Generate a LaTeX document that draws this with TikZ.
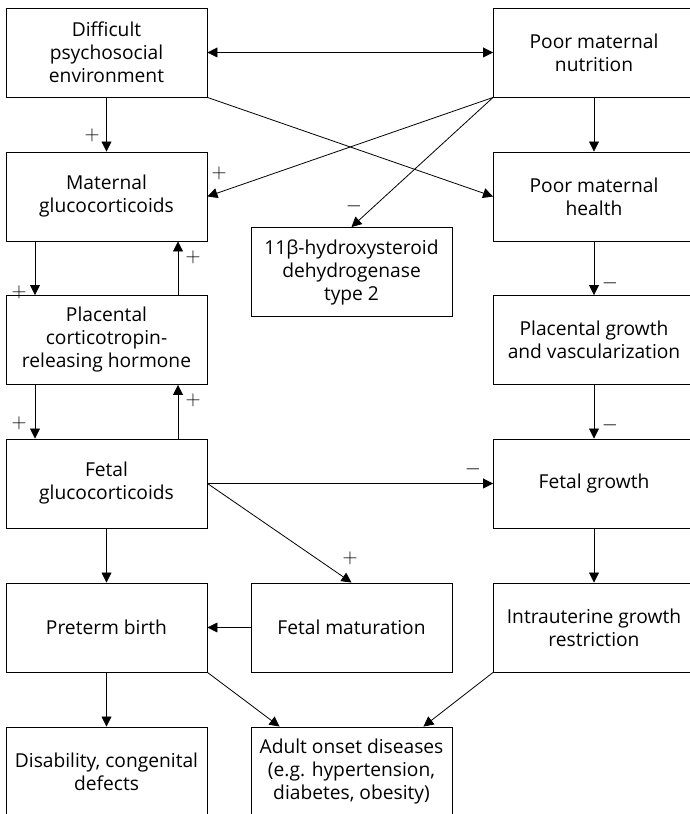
\documentclass[tikz,border=0pt]{standalone}
\usepackage{fontspec}
\setmainfont{Open Sans}
\usetikzlibrary{arrows.meta,positioning,calc}

\begin{document}
\begin{tikzpicture}[
  x=1pt, y=1pt,
  font=\fontsize{19.2}{23}\selectfont,
  box/.style={draw=black, line width=0.9pt, align=center, inner sep=0pt,
              minimum width=201pt, minimum height=89pt},
  flow/.style={-{Triangle[length=10pt,width=10pt]}, line width=0.8pt},
  dflow/.style={{Triangle[length=10pt,width=10pt]}-{Triangle[length=10pt,width=10pt]}, line width=0.8pt},
  sgn/.style={font=\fontsize{20}{20}\selectfont, inner sep=0pt},
]
\useasboundingbox (0,0) rectangle (690,814);

% Maternal side
\node[box] (dpe)  at (106.5,761.5) {Difficult\\psychosocial\\environment};
\node[box] (mgc)  at (106.5,617.5) {Maternal\\glucocorticoids};
\node[box] (pcrh) at (106.5,474)   {Placental\\corticotropin-\\releasing hormone};
\node[box] (fgc)  at (106.5,330.5) {Fetal\\glucocorticoids};
\node[box] (ptb)  at (106.5,186.5) {Preterm birth};
\node[box] (dis)  at (106.5,42.5)  {Disability, congenital\\defects};

% Middle
\node[box] (hsd)  at (351.5,542)   {11β-hydroxysteroid\\dehydrogenase\\type 2};
\node[box] (fmat) at (351.5,186.5) {Fetal maturation};
\node[box] (aod)  at (351.5,42.5)  {Adult onset diseases\\(e.g. hypertension,\\diabetes, obesity)};

% Nutrition side
\node[box] (pmn)  at (594,761.5) {Poor maternal\\nutrition};
\node[box] (pmh)  at (594,617.5) {Poor maternal\\health};
\node[box] (pgv)  at (594,474)   {Placental growth\\and vascularization};
\node[box] (fgr)  at (594,330.5) {Fetal growth};
\node[box] (iugr) at (594,186.5) {Intrauterine growth\\restriction};

% Arrows
\draw[dflow] (dpe.east) -- (pmn.west);
\draw[flow] (dpe.south) -- (mgc.north);
\draw[flow] (dpe.south east) -- (pmh.west);
\draw[flow] (pmn.south west) -- (mgc.east);
\draw[flow] (pmn.south west) -- (hsd.north);
\draw[flow] (pmn.south) -- (pmh.north);

\draw[flow] ([xshift=-71.5pt]mgc.south) -- ([xshift=-71.5pt]pcrh.north);
\draw[flow] ([xshift=71.5pt]pcrh.north) -- ([xshift=71.5pt]mgc.south);
\draw[flow] ([xshift=-71.5pt]pcrh.south) -- ([xshift=-71.5pt]fgc.north);
\draw[flow] ([xshift=71.5pt]fgc.north) -- ([xshift=71.5pt]pcrh.south);

\draw[flow] (pmh.south) -- (pgv.north);
\draw[flow] (pgv.south) -- (fgr.north);
\draw[flow] (fgc.east) -- (fgr.west);
\draw[flow] (fgc.east) -- (fmat.north);
\draw[flow] (fgc.south) -- (ptb.north);
\draw[flow] (fgr.south) -- (iugr.north);
\draw[flow] (fmat.west) -- (ptb.east);
\draw[flow] (ptb.south) -- (dis.north);
\draw[flow] (ptb.south east) -- ([xshift=29pt]aod.north west);
\draw[flow] (iugr.south west) -- ([xshift=-29pt]aod.north east);

% Signs
\node[sgn] (s1)  at (92,679)  {$+$};
\node[sgn] (s2)  at (219,641) {$+$};
\node[sgn] (s3)  at (354,608) {$-$};
\node[sgn] (s4)  at (19,522)  {$+$};
\node[sgn] (s5)  at (193,557) {$+$};
\node[sgn] (s6)  at (19,391)  {$+$};
\node[sgn] (s7)  at (193,414) {$+$};
\node[sgn] (s8)  at (610,531) {$-$};
\node[sgn] (s9)  at (610,389) {$-$};
\node[sgn] (s10) at (473,345) {$-$};
\node[sgn] (s11) at (350,256) {$+$};

\end{tikzpicture}
\end{document}
